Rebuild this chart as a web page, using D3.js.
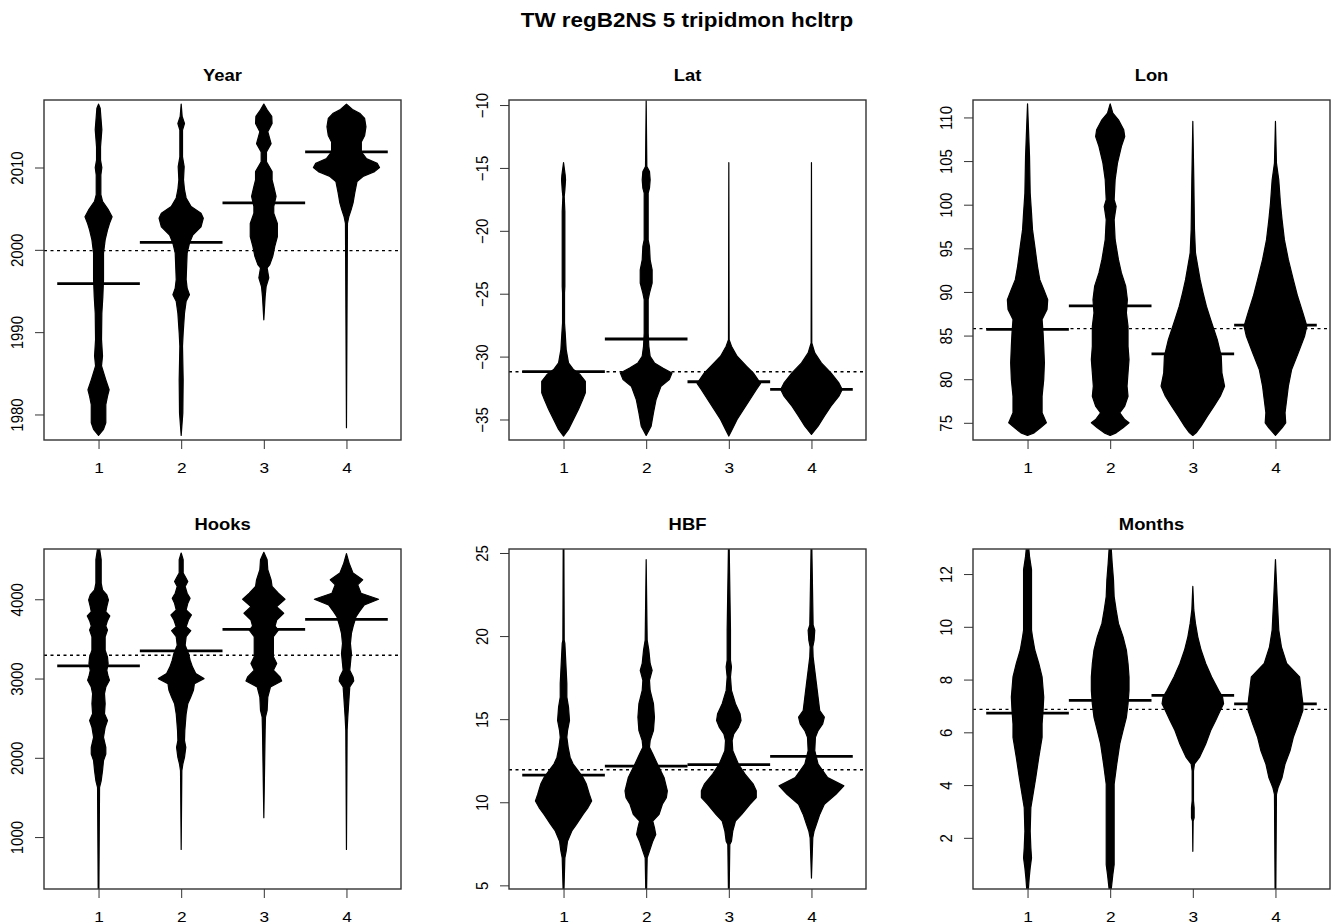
<!DOCTYPE html>
<html>
<head>
<meta charset="utf-8">
<script src="https://cdn.jsdelivr.net/npm/d3@7"></script>
<style>
  body { margin: 0; background: #fff; }
  svg { display: block; }
</style>
</head>
<body>
<script>
// values: [value, relative bean width]
const groups = [1, 2, 3, 4];
const mainTitle = "TW regB2NS 5 tripidmon hcltrp";
const panelTitles = ["Year", "Lat", "Lon", "Hooks", "HBF", "Months"];

const yearTicks = [1980, 1990, 2000, 2010];
const yearDomain = [1976.9, 2018.2];
const yearMeans = [1995.9, 2000.9, 2005.7, 2011.9];
const yearGrand = 1999.9;
const yearBeans = [
  [[2017.7,0],[2017.2,0.05],[2014.6,0.10],[2012.5,0.06],[2010.9,0.06],[2010.0,0.10],[2009.1,0.07],[2006.7,0.07],[2005.9,0.12],[2004.85,0.30],[2004.0,0.41],[2003.2,0.33],[2002.4,0.27],[2001.2,0.20],[1999.6,0.15],[1996.4,0.15],[1994.3,0.13],[1992.3,0.10],[1989.1,0.09],[1987.1,0.12],[1985.9,0.09],[1985.1,0.15],[1984.2,0.22],[1983.0,0.32],[1982.2,0.27],[1981.2,0.22],[1979.0,0.22],[1978.2,0.15],[1977.45,0]],
  [[2017.7,0],[2016.2,0.03],[2015.35,0.10],[2014.55,0.04],[2011.3,0.04],[2010.1,0.09],[2008.5,0.07],[2007.3,0.10],[2006.3,0.15],[2005.25,0.30],[2004.45,0.60],[2003.85,0.67],[2002.8,0.60],[2001.8,0.35],[2000.8,0.25],[1999.6,0.18],[1996.4,0.15],[1995.35,0.18],[1994.55,0.25],[1993.75,0.15],[1992.3,0.10],[1989.9,0.06],[1988.3,0.04],[1984.2,0.06],[1980.2,0.05],[1977.45,0]],
  [[2017.7,0],[2017.0,0.10],[2016.2,0.24],[2015.35,0.25],[2014.35,0.12],[2012.9,0.22],[2011.9,0.08],[2010.7,0.08],[2009.5,0.25],[2008.5,0.25],[2007.7,0.30],[2006.5,0.37],[2005.25,0.30],[2004.45,0.30],[2003.2,0.41],[2001.6,0.41],[2000.4,0.33],[1999.2,0.27],[1998.2,0.18],[1997.8,0.10],[1996.6,0.15],[1995.55,0.07],[1994.3,0.04],[1991.5,0]],
  [[2017.7,0],[2017.0,0.20],[2016.6,0.40],[2015.95,0.55],[2014.95,0.59],[2013.9,0.55],[2013.1,0.45],[2011.9,0.45],[2011.1,0.60],[2010.5,0.93],[2010.0,1.00],[2009.5,0.85],[2008.9,0.50],[2008.3,0.32],[2006.9,0.25],[2005.7,0.20],[2004.85,0.14],[2004.0,0.07],[2003.2,0.03],[1978.4,0]]
];

const latTicks = [-35, -30, -25, -20, -15, -10];
const latDomain = [-36.63, -9.6];
const latMeans = [-31.2, -28.6, -32.0, -32.6];
const latGrand = -31.2;
const latBeans = [
  [[-14.58,0],[-15.56,0.05],[-15.95,0.06],[-16.75,0.04],[-17.28,0.02],[-18.47,0.04],[-24.42,0.04],[-24.95,0.03],[-27.33,0.03],[-28.12,0.05],[-29.44,0.08],[-30.5,0.15],[-31.03,0.30],[-31.43,0.50],[-31.96,0.66],[-32.88,0.66],[-33.41,0.58],[-34.21,0.45],[-35.0,0.30],[-35.79,0.15],[-36.32,0]],
  [[-9.66,0],[-14.89,0.02],[-15.29,0.10],[-15.95,0.12],[-16.61,0.10],[-17.0,0.06],[-20.71,0.06],[-21.24,0.10],[-22.3,0.12],[-23.1,0.18],[-24.15,0.18],[-24.95,0.10],[-25.48,0.06],[-28.12,0.06],[-29.18,0.08],[-29.97,0.12],[-30.5,0.25],[-30.9,0.50],[-31.3,0.78],[-31.83,0.70],[-32.35,0.45],[-33.41,0.30],[-34.47,0.22],[-35.53,0.15],[-36.27,0]],
  [[-14.58,0],[-28.65,0.01],[-29.18,0.08],[-29.97,0.25],[-30.77,0.54],[-31.3,0.74],[-31.83,0.88],[-32.14,0.96],[-32.62,0.83],[-33.41,0.64],[-34.21,0.44],[-35.0,0.25],[-35.79,0.10],[-36.32,0]],
  [[-14.58,0],[-28.92,0.01],[-29.71,0.10],[-30.5,0.30],[-31.3,0.59],[-32.09,0.83],[-32.62,0.93],[-33.15,0.83],[-33.94,0.59],[-34.74,0.39],[-35.53,0.20],[-36.19,0]]
];

const lonTicks = [75, 80, 85, 90, 95, 100, 105, 110];
const lonDomain = [73.03, 112.0];
const lonMeans = [85.7, 88.4, 82.9, 86.2];
const lonGrand = 85.8;
const lonBeans = [
  [[111.56,0],[108.59,0.03],[105.53,0.06],[101.34,0.08],[99.05,0.12],[97.14,0.15],[95.23,0.22],[92.94,0.30],[91.41,0.37],[90.27,0.49],[89.12,0.61],[87.98,0.59],[86.83,0.44],[85.31,0.47],[83.78,0.49],[81.87,0.51],[79.96,0.49],[78.05,0.44],[76.15,0.44],[75.0,0.57],[74.43,0.39],[73.85,0.20],[73.55,0]],
  [[111.56,0],[110.5,0.08],[109.73,0.25],[108.59,0.41],[107.82,0.44],[106.68,0.34],[104.77,0.22],[102.86,0.15],[100.57,0.12],[99.81,0.18],[98.28,0.12],[95.99,0.15],[93.7,0.25],[92.18,0.34],[90.65,0.47],[89.12,0.52],[87.6,0.49],[86.07,0.54],[83.78,0.54],[82.25,0.57],[80.73,0.54],[79.2,0.51],[78.05,0.54],[76.91,0.44],[76.15,0.29],[75.38,0.44],[75.0,0.57],[74.43,0.39],[73.85,0.18],[73.55,0]],
  [[109.54,0],[102.86,0.03],[97.14,0.05],[94.47,0.08],[92.94,0.15],[91.41,0.22],[89.89,0.31],[88.36,0.41],[86.83,0.54],[84.54,0.74],[82.63,0.86],[80.73,0.88],[79.2,0.96],[78.05,0.83],[76.91,0.64],[75.76,0.44],[74.62,0.25],[73.85,0.10],[73.55,0]],
  [[109.54,0],[104.77,0.03],[102.86,0.10],[100.19,0.15],[98.28,0.20],[95.99,0.27],[93.7,0.39],[91.41,0.54],[89.5,0.67],[87.6,0.83],[86.07,0.95],[84.92,0.88],[83.02,0.69],[81.11,0.49],[79.2,0.39],[77.67,0.34],[76.15,0.29],[75.0,0.31],[74.43,0.20],[73.55,0]]
];

const hooksTicks = [1000, 2000, 3000, 4000];
const hooksDomain = [345, 4634];
const hooksMeans = [3159, 3349, 3620, 3746];
const hooksGrand = 3294;
const hooksBeans = [
  [[4680,0.015],[4499,0.08],[4203,0.08],[4118,0.12],[4055,0.25],[3992,0.30],[3907,0.25],[3844,0.22],[3789,0.34],[3730,0.27],[3662,0.22],[3611,0.27],[3527,0.20],[3358,0.20],[3273,0.27],[3189,0.29],[3104,0.25],[3028,0.29],[2978,0.33],[2893,0.22],[2809,0.18],[2682,0.20],[2555,0.18],[2471,0.27],[2386,0.20],[2259,0.15],[2133,0.22],[2048,0.22],[1964,0.15],[1837,0.12],[1710,0.08],[1626,0.03],[300,0.01]],
  [[4583,0],[4499,0.06],[4330,0.06],[4287,0.12],[4224,0.20],[4161,0.12],[4076,0.18],[4013,0.27],[3949,0.20],[3865,0.15],[3801,0.31],[3738,0.22],[3654,0.15],[3603,0.29],[3527,0.15],[3421,0.12],[3316,0.22],[3231,0.27],[3147,0.34],[3062,0.44],[2999,0.69],[2935,0.40],[2851,0.37],[2766,0.29],[2682,0.20],[2555,0.15],[2344,0.11],[2217,0.10],[2133,0.14],[2006,0.10],[1921,0.05],[1837,0.02],[844,0]],
  [[4592,0],[4499,0.10],[4372,0.12],[4245,0.22],[4161,0.25],[4076,0.44],[4000,0.64],[3907,0.39],[3823,0.60],[3738,0.39],[3662,0.34],[3611,0.44],[3527,0.29],[3400,0.29],[3273,0.29],[3189,0.39],[3104,0.29],[3020,0.49],[2969,0.54],[2893,0.20],[2766,0.12],[2597,0.10],[2513,0.05],[2344,0.04],[1245,0]],
  [[4575,0],[4456,0.08],[4330,0.20],[4245,0.49],[4182,0.34],[4076,0.44],[4000,0.97],[3928,0.54],[3844,0.39],[3780,0.29],[3654,0.20],[3569,0.15],[3442,0.12],[3316,0.15],[3189,0.12],[3104,0.10],[3020,0.20],[2969,0.22],[2893,0.10],[2766,0.08],[2640,0.06],[2513,0.04],[2344,0.02],[844,0]]
];

const hbfTicks = [5, 10, 15, 20, 25];
const hbfDomain = [4.78, 25.24];
const hbfMeans = [11.63, 12.18, 12.26, 12.76];
const hbfGrand = 11.96;
const hbfBeans = [
  [[25.5,0.01],[19.76,0.02],[19.56,0.04],[18.75,0.06],[17.94,0.08],[17.14,0.10],[16.33,0.10],[15.73,0.15],[14.92,0.18],[14.31,0.12],[13.91,0.10],[13.31,0.14],[12.7,0.20],[12.3,0.29],[11.9,0.44],[11.49,0.59],[11.09,0.69],[10.48,0.78],[10.08,0.85],[9.68,0.74],[9.27,0.59],[8.67,0.39],[8.27,0.25],[7.66,0.12],[7.06,0.08],[6.65,0.04],[4.5,0.01]],
  [[24.6,0],[19.76,0.03],[19.15,0.08],[18.35,0.12],[17.94,0.18],[17.34,0.10],[16.73,0.12],[15.93,0.22],[15.12,0.25],[14.31,0.22],[13.71,0.12],[13.31,0.10],[12.9,0.20],[12.3,0.34],[11.49,0.54],[10.69,0.64],[10.28,0.61],[9.88,0.49],[9.27,0.39],[8.87,0.20],[8.47,0.25],[8.06,0.29],[7.66,0.20],[7.06,0.10],[6.65,0.03],[4.5,0.01]],
  [[25.5,0.01],[20.36,0.05],[18.55,0.05],[18.15,0.08],[17.54,0.05],[16.73,0.08],[15.93,0.20],[15.32,0.34],[14.92,0.37],[14.52,0.29],[14.11,0.15],[13.71,0.10],[13.1,0.12],[12.3,0.29],[11.69,0.49],[11.09,0.74],[10.69,0.83],[10.28,0.83],[9.88,0.64],[9.27,0.39],[8.87,0.20],[8.27,0.12],[7.66,0.08],[7.46,0.03],[4.5,0.01]],
  [[25.5,0.01],[20.67,0.05],[20.36,0.10],[19.76,0.08],[19.35,0.04],[18.75,0.05],[17.94,0.10],[17.14,0.15],[16.33,0.20],[15.52,0.25],[15.12,0.39],[14.72,0.34],[14.31,0.20],[13.91,0.12],[13.1,0.10],[12.3,0.20],[11.49,0.49],[10.99,0.98],[10.48,0.74],[9.88,0.39],[9.27,0.25],[8.67,0.15],[8.27,0.08],[7.86,0.04],[5.44,0]]
];

const monthsTicks = [2, 4, 6, 8, 10, 12];
const monthsDomain = [0.06, 12.95];
const monthsMeans = [6.73, 7.21, 7.40, 7.08];
const monthsGrand = 6.87;
const monthsBeans = [
  [[13.2,0.02],[12.67,0.06],[12.17,0.12],[11.15,0.12],[9.88,0.12],[9.62,0.15],[9.12,0.22],[8.61,0.34],[8.1,0.44],[7.34,0.49],[6.83,0.47],[6.32,0.44],[5.81,0.44],[5.05,0.34],[4.29,0.25],[3.52,0.15],[3.14,0.10],[2.25,0.08],[1.62,0.10],[1.24,0.12],[0.86,0.08],[0.48,0.05],[-0.2,0.01]],
  [[13.2,0.02],[12.42,0.06],[11.78,0.10],[11.15,0.12],[10.64,0.18],[10.13,0.25],[9.62,0.39],[9.12,0.49],[8.61,0.54],[8.1,0.57],[7.59,0.57],[7.08,0.54],[6.57,0.49],[6.07,0.39],[5.56,0.29],[4.8,0.20],[4.03,0.12],[0.98,0.12],[0.6,0.08],[-0.2,0.01]],
  [[11.53,0],[10.64,0.03],[10.13,0.08],[9.62,0.15],[9.12,0.25],[8.61,0.39],[8.1,0.57],[7.59,0.78],[7.34,0.90],[7.08,0.93],[6.83,0.83],[6.45,0.69],[6.07,0.54],[5.56,0.39],[5.05,0.20],[4.8,0.05],[4.54,0.02],[3.4,0.02],[3.14,0.04],[2.76,0.04],[2.64,0.01],[1.49,0]],
  [[12.55,0],[11.15,0.05],[9.88,0.10],[9.24,0.18],[8.61,0.34],[8.1,0.73],[7.59,0.78],[7.08,0.83],[6.83,0.83],[6.32,0.69],[5.81,0.54],[5.3,0.44],[4.8,0.29],[4.29,0.20],[3.91,0.08],[3.65,0.03],[-0.2,0.01]]
];

const panels = [
  { title: panelTitles[0], ticks: yearTicks, domain: yearDomain, means: yearMeans, grand: yearGrand, beans: yearBeans },
  { title: panelTitles[1], ticks: latTicks, domain: latDomain, means: latMeans, grand: latGrand, beans: latBeans },
  { title: panelTitles[2], ticks: lonTicks, domain: lonDomain, means: lonMeans, grand: lonGrand, beans: lonBeans },
  { title: panelTitles[3], ticks: hooksTicks, domain: hooksDomain, means: hooksMeans, grand: hooksGrand, beans: hooksBeans },
  { title: panelTitles[4], ticks: hbfTicks, domain: hbfDomain, means: hbfMeans, grand: hbfGrand, beans: hbfBeans },
  { title: panelTitles[5], ticks: monthsTicks, domain: monthsDomain, means: monthsMeans, grand: monthsGrand, beans: monthsBeans }
];

// layout
const W = 1335, H = 924;
const colLeft = [44, 509, 973];
const rowTop = [100, 549];
const boxW = 357, boxH = 340;
const xDomain = [0.34, 4.66];
const maxHalf = 0.4;   // bean max half width, in group units
const meanHalf = 0.5;
const sx = 1.15;       // picture is a little stretched sideways
const font = "'Liberation Sans', Arial, Helvetica, sans-serif";

const svg = d3.select("body").append("svg")
  .attr("width", W).attr("height", H)
  .style("font-family", font);

svg.append("rect").attr("width", W).attr("height", H).attr("fill", "#fff");

svg.append("text")
  .attr("transform", `translate(687,27) scale(${sx},1)`)
  .attr("text-anchor", "middle")
  .attr("font-weight", "bold")
  .attr("font-size", 19.5)
  .text(mainTitle);

panels.forEach((p, i) => {
  const left = colLeft[i % 3], top = rowTop[Math.floor(i / 3)];
  const g = svg.append("g").attr("transform", `translate(${left},${top})`);

  const x = d3.scaleLinear().domain(xDomain).range([0, boxW]);
  const y = d3.scaleLinear().domain(p.domain).range([boxH, 0]);
  const w = d3.scaleLinear().domain([0, 1]).range([0, x(1 + maxHalf) - x(1)]);

  const clipId = "clip" + i;
  g.append("clipPath").attr("id", clipId)
    .append("rect").attr("width", boxW).attr("height", boxH);

  const plot = g.append("g").attr("clip-path", `url(#${clipId})`);

  const line = d3.line();
  p.beans.forEach((bean, j) => {
    const cx = x(groups[j]);
    const right = bean.map(d => [cx + w(d[1]), y(d[0])]);
    const leftSide = bean.slice().reverse().map(d => [cx - w(d[1]), y(d[0])]);
    plot.append("path")
      .attr("d", line(right.concat(leftSide)) + "Z")
      .attr("fill", "#000")
      .attr("stroke", "#000")
      .attr("stroke-width", 1.2)
      .attr("stroke-linejoin", "round");
  });

  plot.selectAll(".mean")
    .data(p.means)
    .enter()
    .append("line")
    .attr("x1", (d, j) => x(groups[j] - meanHalf))
    .attr("x2", (d, j) => x(groups[j] + meanHalf))
    .attr("y1", d => y(d))
    .attr("y2", d => y(d))
    .attr("stroke", "#000")
    .attr("stroke-width", 2.8);

  plot.append("line")
    .attr("x1", 0).attr("x2", boxW)
    .attr("y1", y(p.grand)).attr("y2", y(p.grand))
    .attr("stroke", "#000")
    .attr("stroke-width", 1.4)
    .attr("stroke-dasharray", "3,3.5");

  // y axis
  const ya = g.append("g").call(d3.axisLeft(y).tickValues(p.ticks).tickSize(9).tickFormat(d3.format("d")));
  ya.select(".domain").remove();
  ya.selectAll(".tick line").attr("stroke", "#333");
  ya.selectAll(".tick text")
    .attr("x", null).attr("dy", null)
    .attr("transform", `translate(-21,0) rotate(-90) scale(1,1.1)`)
    .attr("text-anchor", "middle")
    .attr("fill", "#000")
    .attr("font-size", 15)
    .attr("font-family", font);

  // x axis
  const xa = g.append("g").attr("transform", `translate(0,${boxH})`)
    .call(d3.axisBottom(x).tickValues(groups).tickSize(9).tickFormat(d3.format("d")));
  xa.select(".domain").remove();
  xa.selectAll(".tick line").attr("stroke", "#333");
  xa.selectAll(".tick text")
    .attr("y", null).attr("dy", null)
    .attr("transform", `translate(0,33) scale(${sx},1)`)
    .attr("text-anchor", "middle")
    .attr("fill", "#000")
    .attr("font-size", 15)
    .attr("font-family", font);

  g.append("rect")
    .attr("width", boxW).attr("height", boxH)
    .attr("fill", "none")
    .attr("stroke", "#333")
    .attr("stroke-width", 1.4);

  g.append("text")
    .attr("transform", `translate(${boxW / 2},-19) scale(${sx},1)`)
    .attr("text-anchor", "middle")
    .attr("font-weight", "bold")
    .attr("font-size", 16)
    .attr("fill", "#000")
    .text(p.title);
});
</script>
</body>
</html>
